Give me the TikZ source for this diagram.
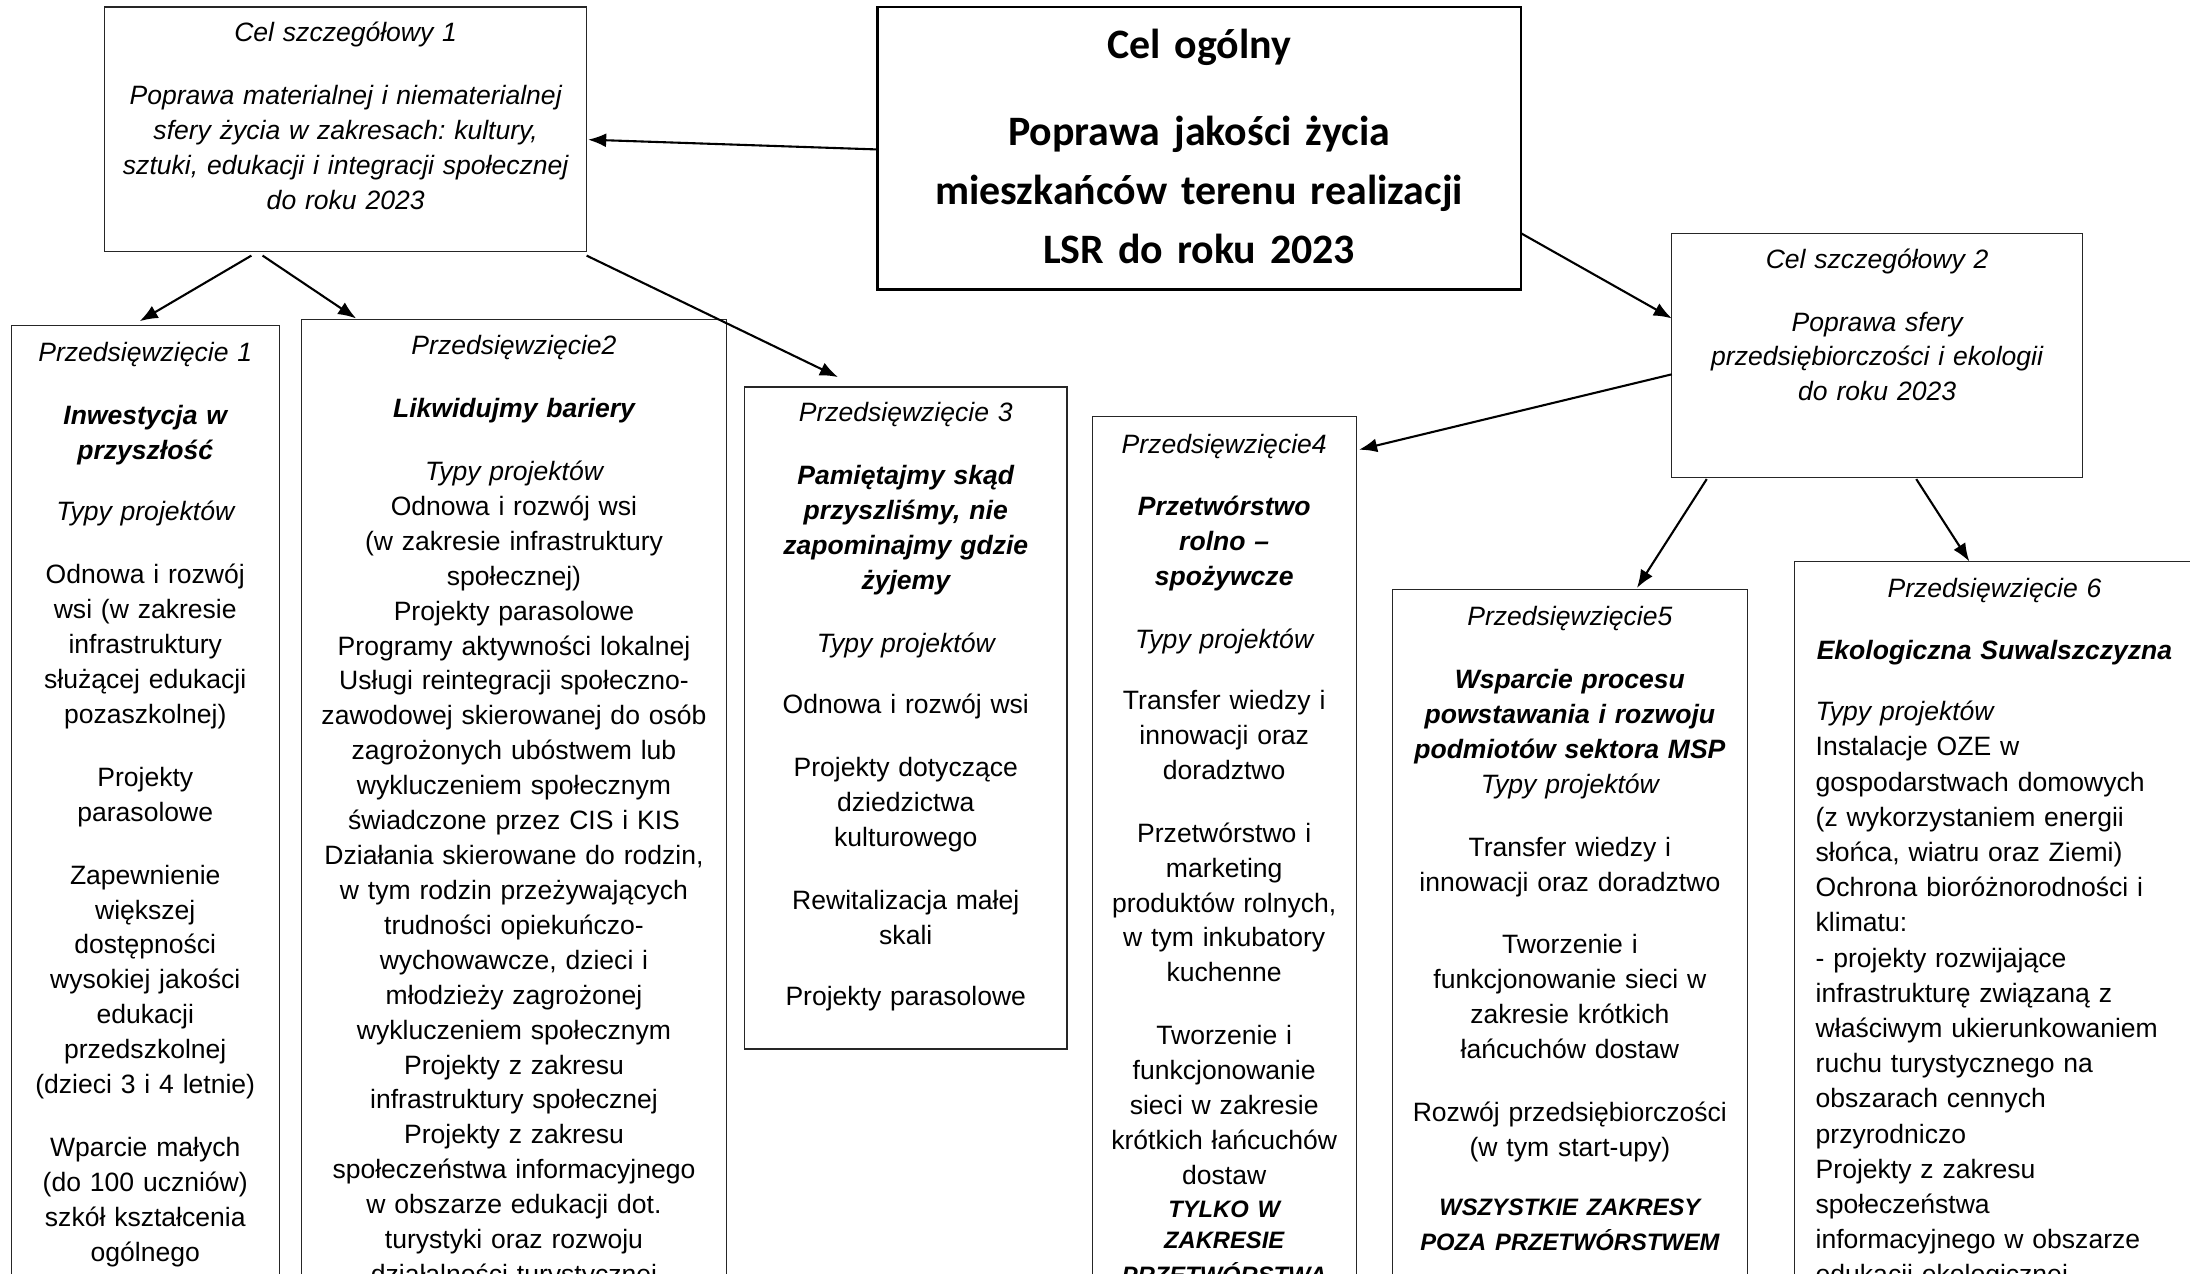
\documentclass[tikz,border=0pt]{standalone}
\usepackage{fontspec}
\setmainfont{Liberation Sans}
\newfontfamily\calib{Carlito}
\usetikzlibrary{arrows.meta,calc}
\newcommand\fstrut{\rule{0pt}{16pt}}
\frenchspacing
\begin{document}
\begin{tikzpicture}[x=1pt,y=-1pt,
 box/.style={draw=black!85, line width=0.9pt, inner sep=0pt, outer sep=0pt, anchor=north west},
 txt/.style={inner sep=0pt, outer sep=0pt, anchor=north, align=center, font=\fontsize{19}{25}\selectfont},
 ltxt/.style={inner sep=0pt, outer sep=0pt, anchor=north west, align=left, font=\fontsize{19}{25.2}\selectfont},
 arr/.style={line width=1.5pt, -{Latex[length=13pt,width=10pt]}}]
\path[use as bounding box] (0,0) rectangle (1568,912);
\clip (0,0) rectangle (1568,912);

% boxes
\node[box, minimum width=345pt, minimum height=175pt] (cs1) at (75,5) {};
\node[box, draw=black, line width=2pt, minimum width=461pt, minimum height=202pt] (ogol) at (628,5) {};
\node[box, minimum width=294pt, minimum height=175pt] (cs2) at (1197,167) {};
\node[box, minimum width=192pt, minimum height=720pt] (p1) at (8,233) {};
\node[box, minimum width=304pt, minimum height=720pt] (p2) at (216,229) {};
\node[box, minimum width=231pt, minimum height=474pt] (p3) at (533,277) {};
\node[box, minimum width=189pt, minimum height=720pt] (p4) at (782,298) {};
\node[box, minimum width=254pt, minimum height=600pt] (p5) at (997,422) {};
\node[box, minimum width=300pt, minimum height=600pt] (p6) at (1285,402) {};

% texts
\node[txt, text width=345pt] (cs1t) at (247.5,14) {\fstrut\itshape Cel szczegółowy 1\\[20pt]
Poprawa materialnej i niematerialnej\\
sfery życia w zakresach: kultury,\\
sztuki, edukacji i integracji społecznej\\
do roku 2023};

\node[txt, text width=461pt, font=\calib\bfseries\fontsize{30}{42.5}\selectfont] (ogolt) at (858.5,15) {\rule{0pt}{27pt}Cel ogólny\\[19.5pt]
Poprawa jakości życia\\
mieszkańców terenu realizacji\\
LSR do roku 2023};

\node[txt, text width=294pt] (cs2t) at (1344,176) {\fstrut\itshape Cel szczegółowy 2\\[20pt]
Poprawa sfery\\
przedsiębiorczości i ekologii\\
do roku 2023};

\node[txt, text width=192pt] (p1t) at (104,243) {\fstrut{\itshape Przedsięwzięcie 1}\\[20pt]
{\bfseries\itshape Inwestycja w}\\
{\bfseries\itshape przyszłość}\\[19pt]
{\itshape Typy projektów}\\[20pt]
Odnowa i rozwój\\ wsi (w zakresie\\ infrastruktury\\ służącej edukacji\\ pozaszkolnej)\\[20pt]
Projekty\\ parasolowe\\[20pt]
Zapewnienie\\ większej\\ dostępności\\ wysokiej jakości\\ edukacji\\ przedszkolnej\\ (dzieci 3 i 4 letnie)\\[20pt]
Wparcie małych\\ (do 100 uczniów)\\ szkół kształcenia\\ ogólnego};

\node[txt, text width=304pt] (p2t) at (368,238) {\fstrut{\itshape Przedsięwzięcie2}\\[20pt]
{\bfseries\itshape Likwidujmy bariery}\\[20pt]
{\itshape Typy projektów}\\
Odnowa i rozwój wsi\\ (w zakresie infrastruktury\\ społecznej)\\ Projekty parasolowe\\ Programy aktywności lokalnej\\ Usługi reintegracji społeczno-\\ zawodowej skierowanej do osób\\ zagrożonych ubóstwem lub\\ wykluczeniem społecznym\\ świadczone przez CIS i KIS\\ Działania skierowane do rodzin,\\ w tym rodzin przeżywających\\ trudności opiekuńczo-\\ wychowawcze, dzieci i\\ młodzieży zagrożonej\\ wykluczeniem społecznym\\ Projekty z zakresu\\ infrastruktury społecznej\\ Projekty z zakresu\\ społeczeństwa informacyjnego\\ w obszarze edukacji dot.\\ turystyki oraz rozwoju\\ działalności turystycznej};

\node[txt, text width=231pt] (p3t) at (648.5,286) {\fstrut{\itshape Przedsięwzięcie 3}\\[20pt]
{\bfseries\itshape Pamiętajmy skąd}\\ {\bfseries\itshape przyszliśmy, nie}\\ {\bfseries\itshape zapominajmy gdzie}\\ {\bfseries\itshape żyjemy}\\[20pt]
{\itshape Typy projektów}\\[19pt]
Odnowa i rozwój wsi\\[20pt]
Projekty dotyczące\\ dziedzictwa\\ kulturowego\\[20pt]
Rewitalizacja małej\\ skali\\[19pt]
Projekty parasolowe};

\node[txt, text width=189pt] (p4t) at (876.5,309) {\fstrut{\itshape Przedsięwzięcie4}\\[19pt]
{\bfseries\itshape Przetwórstwo}\\ {\bfseries\itshape rolno –}\\ {\bfseries\itshape spożywcze}\\[20pt]
{\itshape Typy projektów}\\[19pt]
Transfer wiedzy i\\ innowacji oraz\\ doradztwo\\[20pt]
Przetwórstwo i\\ marketing\\ produktów rolnych,\\ w tym inkubatory\\ kuchenne\\[20pt]
Tworzenie i\\ funkcjonowanie\\ sieci w zakresie\\ krótkich łańcuchów\\ dostaw\\[2pt]
\fontsize{17}{22}\selectfont\bfseries\itshape TYLKO W\\ ZAKRESIE\\ PRZETWÓRSTWA};

\node[txt, text width=254pt] (p5t) at (1124,432) {\fstrut{\itshape Przedsięwzięcie5}\\[20pt]
{\bfseries\itshape Wsparcie procesu}\\ {\bfseries\itshape powstawania i rozwoju}\\ {\bfseries\itshape podmiotów sektora MSP}\\
{\itshape Typy projektów}\\[20pt]
Transfer wiedzy i\\ innowacji oraz doradztwo\\[20pt]
Tworzenie i\\ funkcjonowanie sieci w\\ zakresie krótkich\\ łańcuchów dostaw\\[20pt]
Rozwój przedsiębiorczości\\ (w tym start-upy)\\[19pt]
\fontsize{17}{23}\selectfont\bfseries\itshape WSZYSTKIE ZAKRESY\\ POZA PRZETWÓRSTWEM};

\node[txt, text width=290pt] (p6h) at (1428,412) {\fstrut{\itshape Przedsięwzięcie 6}\\[19pt]
{\bfseries\itshape Ekologiczna Suwalszczyzna}};

\node[ltxt, text width=270pt] (p6t) at (1300,500) {\fstrut{\itshape Typy projektów}\\
Instalacje OZE w\\ gospodarstwach domowych\\ (z wykorzystaniem energii\\ słońca, wiatru oraz Ziemi)\\ Ochrona bioróżnorodności i\\ klimatu:\\ - projekty rozwijające\\ infrastrukturę związaną z\\ właściwym ukierunkowaniem\\ ruchu turystycznego na\\ obszarach cennych\\ przyrodniczo\\ Projekty z zakresu\\ społeczeństwa\\ informacyjnego w obszarze\\ edukacji ekologicznej};

% arrows
\draw[arr] ($(ogol.north west)+(0,102)$) -- ($(cs1.north east)+(1,95)$);
\draw[arr] ($(ogol.south east)+(0,-40)$) -- ($(cs2.north west)+(0,61)$);
\draw[arr] ($(cs1.south west)+(105,3)$) -- ($(p1.north west)+(92,-3)$);
\draw[arr] ($(cs1.south west)+(113,3)$) -- ($(p2.north west)+(39,-1)$);
\draw[arr] ($(cs1.south east)+(0,3)$) -- ($(p3.north west)+(67,-7)$);
\draw[arr] ($(cs2.north west)+(0,101)$) -- ($(p4.north east)+(2,24)$);
\draw[arr] ($(cs2.south west)+(25,1)$) -- ($(p5.north west)+(175,-1)$);
\draw[arr] ($(cs2.south west)+(175,1)$) -- ($(p6.north west)+(125,0)$);
\end{tikzpicture}
\end{document}
